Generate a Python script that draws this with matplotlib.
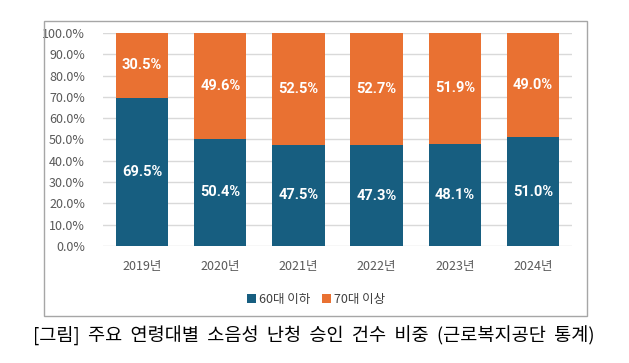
import matplotlib
matplotlib.use("Agg")
import matplotlib.pyplot as plt
from matplotlib.patches import Rectangle
import numpy as np

plt.rcParams['font.family'] = ['Noto Sans CJK KR', 'DejaVu Sans']

years = ['2019년', '2020년', '2021년', '2022년', '2023년', '2024년']
under60 = [69.5, 50.4, 47.5, 47.3, 48.1, 51.0]
over70 = [30.5, 49.6, 52.5, 52.7, 51.9, 49.0]
series_names = ['60대 이하', '70대 이상']
yticks = [0, 10, 20, 30, 40, 50, 60, 70, 80, 90, 100]
caption = '[그림] 주요 연령대별 소음성 난청 승인 건수 비중 (근로복지공단 통계)'

blue = '#175E80'
orange = '#E97132'

W, H = 629, 363
fig = plt.figure(figsize=(W/100, H/100), dpi=100)
ax = fig.add_axes([103/W, 1-246/H, (572-103)/W, (246-33)/H])

x = np.arange(len(years))
b1 = ax.bar(x, under60, width=0.67, color=blue, label=series_names[0], zorder=3)
b2 = ax.bar(x, over70, bottom=under60, width=0.67, color=orange, label=series_names[1], zorder=3)

for i in range(len(years)):
    ax.text(x[i], under60[i]/2, f'{under60[i]:.1f}%', ha='center', va='center',
            color='white', fontsize=10.5, fontweight='bold', family='Roboto', zorder=4)
    ax.text(x[i], under60[i] + over70[i]/2, f'{over70[i]:.1f}%', ha='center', va='center',
            color='white', fontsize=10.5, fontweight='bold', family='Roboto', zorder=4)

ax.set_xlim(-0.5, len(years)-0.5)
ax.set_ylim(0, 100)
ax.set_yticks(yticks)
ax.set_yticklabels([f'{v:.1f}%' for v in yticks])
ax.set_xticks(x)
ax.set_xticklabels(years)
ax.grid(axis='y', color='#D9D9D9', linewidth=1, zorder=0)
for s in ax.spines.values():
    s.set_visible(False)
ax.tick_params(axis='both', length=0, colors='#595959', labelsize=9)
ax.tick_params(axis='x', pad=10)
ax.tick_params(axis='y', pad=13)

leg = fig.legend(handles=[b1, b2], labels=series_names, loc='center',
                 bbox_to_anchor=(316/W, 1-299/H), ncol=2, frameon=False,
                 fontsize=9, handlelength=0.7, handleheight=0.7, handletextpad=0.2,
                 columnspacing=1.0)
for t in leg.get_texts():
    t.set_color('#404040')

fig.patches.append(Rectangle((44/W, 1-316/H), (587-44)/W, (316-21)/H,
                             transform=fig.transFigure, fill=False,
                             edgecolor='#A6A6A6', linewidth=1))

fig.text(314/W, 1-336/H, caption.replace(' ', '  '), ha='center', va='center',
         fontsize=13.4, color='black')

fig.savefig('out.png', dpi=100)
